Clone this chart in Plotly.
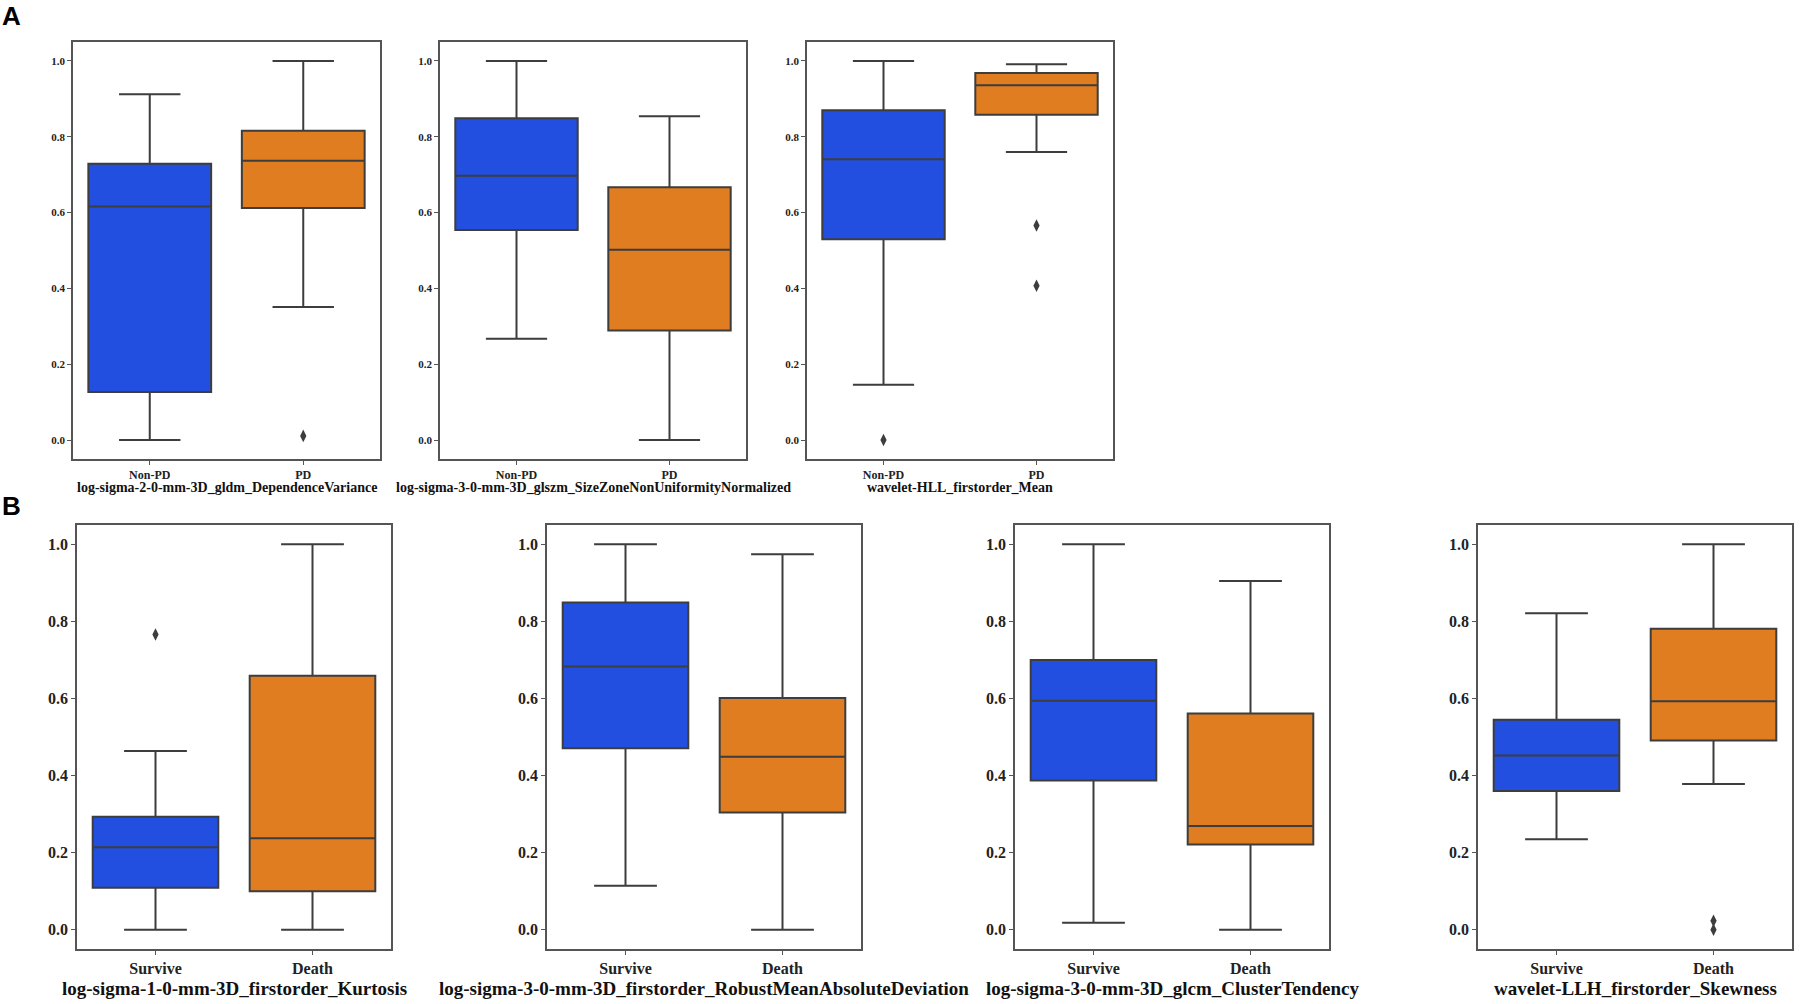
import plotly.graph_objects as go

# --- data (normalised feature values) ---
titles = [
    "log-sigma-2-0-mm-3D_gldm_DependenceVariance",
    "log-sigma-3-0-mm-3D_glszm_SizeZoneNonUniformityNormalized",
    "wavelet-HLL_firstorder_Mean",
    "log-sigma-1-0-mm-3D_firstorder_Kurtosis",
    "log-sigma-3-0-mm-3D_firstorder_RobustMeanAbsoluteDeviation",
    "log-sigma-3-0-mm-3D_glcm_ClusterTendency",
    "wavelet-LLH_firstorder_Skewness",
]
groups_a = ["Non-PD", "PD"]
groups_b = ["Survive", "Death"]

# [first group, second group] for each panel
lower = [[0.0, 0.351], [0.267, 0.0], [0.146, 0.760],
         [0.0, 0.0], [0.114, 0.0], [0.018, 0.0], [0.235, 0.378]]
q1 = [[0.127, 0.612], [0.554, 0.289], [0.530, 0.858],
      [0.109, 0.100], [0.471, 0.304], [0.387, 0.221], [0.360, 0.491]]
med = [[0.616, 0.737], [0.697, 0.502], [0.741, 0.936],
       [0.214, 0.237], [0.683, 0.449], [0.594, 0.269], [0.452, 0.593]]
q3 = [[0.729, 0.816], [0.849, 0.667], [0.870, 0.968],
      [0.293, 0.659], [0.849, 0.601], [0.700, 0.561], [0.545, 0.781]]
upper = [[0.912, 1.0], [1.0, 0.854], [1.0, 0.991],
         [0.464, 1.0], [1.0, 0.974], [1.0, 0.905], [0.821, 1.0]]
fliers = [[[], [0.011]], [[], []], [[0.0], [0.566, 0.407]],
          [[0.766], []], [[], []], [[], []], [[], [0.023, 0.0]]]

colors = ["#224FDF", "#DF7D20"]
edge = "#3d3d3d"
serif = "Liberation Serif"

# panel frames in pixels (left, right, top, bottom) on a 1807x1004 page
W, H = 1807, 1004
frames = [(73, 380, 42, 459), (440, 746, 42, 459), (807, 1113, 42, 459),
          (77, 391, 525, 949), (547, 861, 525, 949), (1015, 1329, 525, 949),
          (1478, 1792, 525, 949)]

fig = go.Figure()
layout = {}
annotations = []

for i in range(7):
    n = i + 1
    sfx = "" if n == 1 else str(n)
    cats = groups_a if i < 3 else groups_b
    small = i < 3
    tick_size = 11 if small else 16
    cat_size = 12 if small else 16
    title_size = 14 if small else 19

    for j in range(2):
        fig.add_trace(go.Box(
            x=[cats[j]], q1=[q1[i][j]], median=[med[i][j]], q3=[q3[i][j]],
            lowerfence=[lower[i][j]], upperfence=[upper[i][j]],
            fillcolor=colors[j], line=dict(color=edge, width=2),
            width=0.8, whiskerwidth=0.5, boxpoints=False,
            xaxis="x" + sfx, yaxis="y" + sfx, showlegend=False,
        ))
        if fliers[i][j]:
            fig.add_trace(go.Scatter(
                x=[cats[j]] * len(fliers[i][j]), y=fliers[i][j], mode="markers",
                marker=dict(symbol="diamond-tall", size=9, color=edge),
                xaxis="x" + sfx, yaxis="y" + sfx, showlegend=False,
            ))

    l, r, t, b = frames[i]
    axis_common = dict(showline=True, linecolor="#555555", linewidth=1.5,
                       mirror=True, showgrid=False, zeroline=False,
                       ticks="outside", ticklen=4, tickcolor="#555555")
    layout["xaxis" + sfx] = dict(
        axis_common, domain=[l / W, r / W], anchor="y" + sfx,
        type="category", categoryorder="array", categoryarray=cats,
        range=[-0.5, 1.5],
        tickfont=dict(family=serif, size=cat_size, color="#222222", weight="bold"),
    )
    layout["yaxis" + sfx] = dict(
        axis_common, domain=[1 - b / H, 1 - t / H], anchor="x" + sfx,
        range=[-0.05, 1.05], tickvals=[0, 0.2, 0.4, 0.6, 0.8, 1.0],
        tickformat=".1f",
        tickfont=dict(family=serif, size=tick_size, color="#222222", weight="bold"),
    )
    annotations.append(dict(
        text=titles[i], xref="paper", yref="paper",
        x=(l + r) / 2 / W, y=1 - (b + (28 if small else 39)) / H,
        xanchor="center", yanchor="middle", showarrow=False,
        font=dict(family=serif, size=title_size, color="#111111", weight="bold"),
    ))

for letter, py in [("A", 16), ("B", 506)]:
    annotations.append(dict(
        text=letter, xref="paper", yref="paper", x=0.0, y=1 - py / H,
        xanchor="left", yanchor="middle", showarrow=False,
        font=dict(family="Liberation Sans", size=26, color="#000000", weight="bold"),
    ))

fig.update_layout(
    width=W, height=H, margin=dict(l=0, r=0, t=0, b=0),
    plot_bgcolor="white", paper_bgcolor="white",
    boxmode="overlay", annotations=annotations, **layout,
)

fig.write_html("out.html", config={"displayModeBar": False},
               post_script="document.body.style.margin='0px';")
